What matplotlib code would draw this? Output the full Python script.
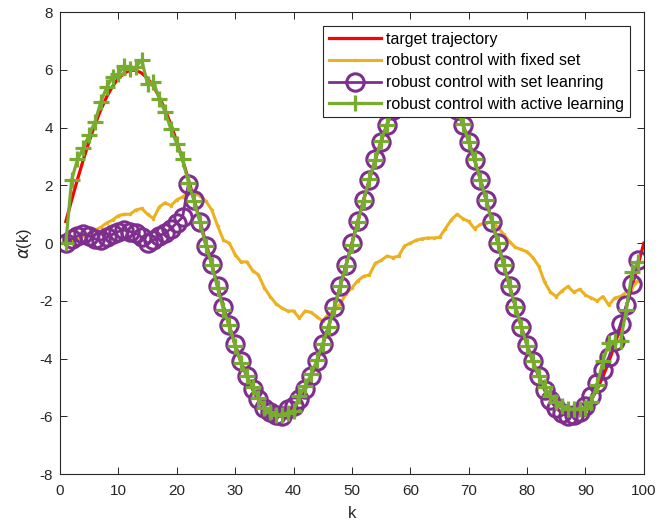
import numpy as np
import matplotlib.pyplot as plt

plt.rcParams['font.family'] = ['Liberation Sans', 'DejaVu Sans']
plt.rcParams['axes.unicode_minus'] = False

# reference trajectory, k = 1..100
target = [0.75, 1.49, 2.21, 2.89, 3.53, 4.11, 4.62, 5.07, 5.43, 5.71,
          5.89, 5.99, 5.99, 5.89, 5.71, 5.43, 5.07, 4.62, 4.11, 3.53,
          2.89, 2.21, 1.49, 0.75, 0.0, -0.75, -1.49, -2.21, -2.89, -3.53,
          -4.11, -4.62, -5.07, -5.43, -5.71, -5.89, -5.99, -5.99, -5.89, -5.71,
          -5.43, -5.07, -4.62, -4.11, -3.53, -2.89, -2.21, -1.49, -0.75, 0.0,
          0.75, 1.49, 2.21, 2.89, 3.53, 4.11, 4.62, 5.07, 5.43, 5.71,
          5.89, 5.99, 5.99, 5.89, 5.71, 5.43, 5.07, 4.62, 4.11, 3.53,
          2.89, 2.21, 1.49, 0.75, 0.0, -0.75, -1.49, -2.21, -2.89, -3.53,
          -4.11, -4.62, -5.07, -5.43, -5.71, -5.89, -5.99, -5.99, -5.89, -5.71,
          -5.43, -5.07, -4.62, -4.11, -3.53, -2.89, -2.21, -1.49, -0.75, 0.0]

# controller outputs, k = 1..99
fixed_set = [0.0, 0.05, 0.15, 0.25, 0.35, 0.45, 0.55, 0.7, 0.8, 0.95,
             1.0, 1.0, 1.15, 1.2, 1.0, 0.85, 1.25, 1.4, 1.3, 1.5,
             1.6, 1.75, 1.7, 1.65, 1.45, 1.15, 0.6, 0.1, 0.0, -0.4,
             -0.65, -0.65, -0.95, -1.1, -1.55, -1.85, -2.1, -2.25, -2.35, -2.35,
             -2.6, -2.35, -2.4, -2.55, -2.7, -2.45, -2.35, -2.1, -1.75, -1.55,
             -1.3, -1.15, -1.1, -0.7, -0.6, -0.45, -0.5, -0.45, -0.1, 0.0,
             0.1, 0.15, 0.18, 0.18, 0.2, 0.5, 0.8, 1.0, 0.85, 0.75,
             0.5, 0.65, 0.7, 0.75, 0.55, 0.3, 0.05, -0.15, -0.22, -0.3,
             -0.5, -0.8, -1.35, -1.7, -1.85, -1.65, -1.5, -1.7, -1.6, -1.8,
             -1.9, -2.0, -1.85, -2.15, -1.9, -1.85, -1.7, -1.55, -1.3]

set_learning = [0.0, 0.15, 0.25, 0.3, 0.25, 0.15, 0.1, 0.2, 0.3, 0.4,
                0.45, 0.4, 0.35, 0.2, 0.0, 0.1, 0.25, 0.35, 0.5, 0.7,
                0.9, 2.05, 1.48, 0.74, -0.1, -0.72, -1.5, -2.2, -2.85, -3.5,
                -4.1, -4.6, -5.05, -5.4, -5.7, -5.85, -5.95, -6.0, -5.75, -5.65,
                -5.4, -5.05, -4.6, -4.1, -3.5, -2.88, -2.2, -1.5, -0.75, 0.0,
                0.75, 1.5, 2.2, 2.9, 3.52, 4.1, 4.6, 5.05, 5.42, 5.7,
                5.88, 5.98, 5.98, 5.88, 5.7, 5.42, 5.05, 4.6, 4.1, 3.52,
                2.88, 2.2, 1.48, 0.74, 0.0, -0.75, -1.5, -2.2, -2.9, -3.52,
                -4.1, -4.62, -5.1, -5.45, -5.72, -5.9, -5.98, -5.95, -5.85, -5.65,
                -5.3, -4.85, -4.4, -3.95, -3.4, -2.8, -2.15, -1.4, -0.6]

active_learning = [0.0, 2.2, 2.9, 3.3, 3.75, 4.2, 4.9, 5.4, 5.75, 5.85,
                   6.15, 6.05, 6.1, 6.35, 5.5, 5.6, 5.0, 4.55, 3.95, 3.45,
                   2.9, 2.1, 1.45, 0.72, -0.1, -0.75, -1.55, -2.3, -2.85, -3.55,
                   -4.15, -4.6, -5.0, -5.35, -5.7, -5.85, -5.95, -5.95, -5.9, -5.8,
                   -5.3, -4.95, -4.55, -4.05, -3.5, -2.9, -2.25, -1.5, -0.78, -0.05,
                   0.72, 1.47, 2.22, 2.88, 3.55, 4.1, 4.63, 5.05, 5.45, 5.7,
                   5.9, 6.0, 5.97, 5.88, 5.7, 5.43, 5.07, 4.6, 4.12, 3.5,
                   2.9, 2.2, 1.5, 0.73, 0.02, -0.77, -1.5, -2.2, -2.9, -3.55,
                   -4.1, -4.6, -5.0, -5.3, -5.5, -5.65, -5.75, -5.75, -5.75, -5.7,
                   -5.5, -4.9, -4.1, -3.45, -3.4, -3.4, -2.3, -1.0, -0.65]

k_target = np.arange(1, len(target) + 1)
k = np.arange(1, len(set_learning) + 1)

fig = plt.figure(figsize=(6.62, 5.32), dpi=100)
ax = fig.add_axes([0.0906, 0.109, 0.882, 0.868])

ax.plot(k_target, target, color='red', lw=2.3, label='target trajectory')
ax.plot(k, fixed_set, color='#EDB120', lw=2.2, marker='.', ms=3,
        label='robust control with fixed set')
ax.plot(k, set_learning, color='#7E2F8E', lw=2.0, marker='o', ms=12.5,
        mfc='none', mew=2.2, label='robust control with set leanring')
ax.plot(k, active_learning, color='#77AC30', lw=2.3, marker='+', ms=12,
        mew=2.3, label='robust control with active learning')

ax.set_xlim(0, 100)
ax.set_ylim(-8, 8)
ax.set_xticks(np.arange(0, 101, 10))
ax.set_yticks(np.arange(-8, 9, 2))
ax.tick_params(direction='in', top=True, right=True, length=5, width=0.7,
               labelsize=11, colors='0.15')
ax.tick_params(axis='x', pad=7)
ax.tick_params(axis='y', pad=5)
for s in ax.spines.values():
    s.set_color('0.15')
    s.set_linewidth(0.8)

ax.set_xlabel('k', fontsize=12, color='0.15', labelpad=6)
ax.set_ylabel(r'$\alpha$(k)', fontsize=12, color='0.15', labelpad=4)

leg = ax.legend(loc='upper right', bbox_to_anchor=(0.976, 0.970),
                borderaxespad=0, fancybox=False, framealpha=1,
                edgecolor='0.15', fontsize=11.5, handlelength=3.3,
                labelspacing=0.42, borderpad=0.35, handletextpad=0.3)
leg.get_frame().set_linewidth(0.8)

fig.savefig('out.png', dpi=100)
